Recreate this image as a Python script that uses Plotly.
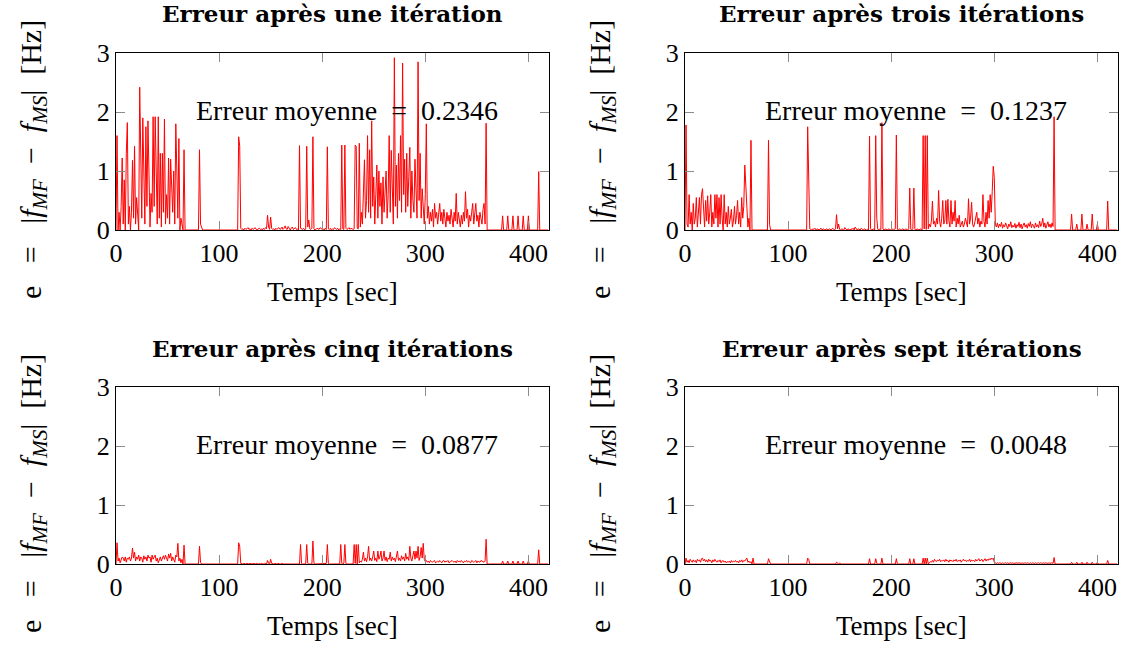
import plotly.graph_objects as go

# time base [sec]
time_s = list(range(420))

# |f_MF - f_MS| after 1 iteration
err_1 = (
    [0.0, 1.6, 0.0, 0.3, 0.0, 0.4, 1.22, 0.1, 0.85, 0.0, 1.3, 1.82, 0.1, 0.4, 0.0, 0.3, 1.18, 0.2, 1.42, 0.1]
    + [0.55, 0.3, 0.0, 2.42, 1.3, 0.2, 1.9, 0.6, 0.1, 1.75, 0.4, 1.85, 0.6, 0.05, 0.62, 0.3, 1.92, 0.4, 1.92, 0.5]
    + [0.1, 1.92, 0.2, 1.3, 0.05, 1.3, 0.3, 1.88, 0.1, 0.6, 0.2, 1.22, 0.1, 1.2, 0.8, 0.3, 1.0, 0.1, 1.8, 0.8]
    + [0.2, 1.55, 0.0, 0.2, 0.05, 0.0, 1.36, 0.0] + [0.0] * 12
    + [0.0, 1.36, 0.1, 0.05] + [0.0] * 16
    + [0.0] * 19 + [1.58]
    + [1.42, 0.03, 0.01, 0.02, 0.0, 0.03, 0.01, 0.02, 0.04, 0.01, 0.02, 0.0, 0.03, 0.01, 0.02, 0.04, 0.01, 0.0, 0.02, 0.03]
    + [0.01, 0.02, 0.0, 0.03, 0.01, 0.04, 0.02, 0.25, 0.05, 0.01, 0.22, 0.03, 0.01, 0.02, 0.0, 0.03, 0.01, 0.02, 0.04, 0.01]
    + [0.02, 0.05, 0.01, 0.03, 0.07, 0.02, 0.01, 0.06, 0.02, 0.0, 0.03, 0.05, 0.01, 0.02, 0.04, 0.01, 0.02, 0.0, 1.43, 0.03]
    + [0.02, 0.01, 0.03, 0.0, 0.02, 1.42, 0.05, 0.17, 0.02, 0.01, 0.03, 1.58, 0.02, 0.0, 0.01, 0.03, 0.02, 0.01, 0.04, 0.02]
    + [0.01, 0.02, 0.0, 0.03, 0.01, 1.41, 0.02, 0.01, 0.03, 0.0, 0.02, 0.01, 0.04, 0.02, 0.01, 0.03, 0.0, 0.02, 0.01, 1.44]
    + [0.02, 0.01, 1.44, 0.03, 0.01, 0.02, 0.04, 0.01, 0.03, 0.02, 0.01, 0.02, 1.44, 1.42, 0.03, 0.02, 1.47, 0.05, 0.3, 0.1]
    + [0.6, 1.19, 0.2, 0.5, 1.6, 0.3, 1.36, 0.2, 1.85, 0.4, 0.9, 0.1, 0.6, 1.1, 0.2, 1.0, 0.4, 0.8, 0.1, 0.9]
    + [0.3, 0.7, 1.0, 0.2, 0.6, 1.6, 0.3, 1.35, 0.5, 0.1, 2.92, 0.4, 1.1, 0.2, 1.3, 0.5, 1.6, 0.3, 2.83, 0.6]
    + [1.2, 0.3, 1.3, 0.4, 0.9, 1.4, 0.2, 1.0, 0.5, 0.3, 1.2, 0.6, 0.2, 2.85, 0.5, 1.3, 0.2, 0.7, 0.4, 0.1]
    + [0.6, 1.8, 0.2, 0.4, 0.1, 0.3, 0.15, 0.35, 0.05, 0.45, 0.2, 0.3, 0.1, 0.25, 0.45, 0.15, 0.3, 0.1, 0.35, 0.2]
    + [0.05, 0.3, 0.15, 0.25, 0.1, 0.35, 0.2, 0.05, 0.3, 0.15, 0.62, 0.1, 0.3, 0.2, 0.05, 0.25, 0.1, 0.3, 0.15, 0.65]
    + [0.2, 0.35, 0.05, 0.25, 0.15, 0.3, 0.45, 0.1, 0.3, 0.45, 0.15, 0.25, 0.05, 0.3, 0.2, 0.1, 0.35, 0.45, 0.1, 1.81]
    + [0.0] * 15 + [0.24, 0.0, 0.0, 0.0, 0.0]
    + [0.24, 0.0, 0.0, 0.0, 0.0, 0.24, 0.0, 0.0, 0.0, 0.0, 0.24, 0.0, 0.0, 0.0, 0.0, 0.24, 0.0, 0.0, 0.0, 0.0]
    + [0.24] + [0.0] * 9 + [0.99] + [0.0] * 9
)

# after 3 iterations
err_3 = (
    [0.0, 1.78, 0.1, 0.05, 0.6, 0.1, 0.3, 0.0, 0.45, 0.1, 0.2, 0.55, 0.05, 0.3, 0.55, 0.1, 0.6, 0.7, 0.2, 0.05]
    + [0.5, 0.15, 0.58, 0.1, 0.3, 0.6, 0.05, 0.3, 0.1, 0.6, 0.2, 0.6, 0.05, 0.55, 0.1, 0.6, 0.2, 0.0, 0.6, 0.1]
    + [0.3, 0.05, 0.4, 0.1, 0.2, 0.35, 0.05, 0.15, 0.4, 0.1, 0.25, 0.5, 0.1, 0.3, 0.05, 0.55, 0.2, 0.4, 1.1, 0.72]
    + [0.3, 0.05, 0.2, 0.0, 1.52, 0.0] + [0.0] * 14
    + [0.0, 1.52, 0.1, 0.0] + [0.0] * 16
    + [0.0] * 19 + [1.75]
    + [0.69, 0.02, 0.01, 0.0, 0.02, 0.01, 0.03, 0.0, 0.01, 0.02, 0.0, 0.01, 0.03, 0.0, 0.02, 0.01, 0.0, 0.02, 0.01, 0.0]
    + [0.02, 0.01, 0.0, 0.03, 0.01, 0.0, 0.02, 0.26, 0.02, 0.1, 0.01, 0.0, 0.02, 0.01, 0.0, 0.04, 0.01, 0.0, 0.02, 0.01]
    + [0.0, 0.02, 0.01, 0.03, 0.0, 0.05, 0.01, 0.0, 0.02, 0.01, 0.0, 0.03, 0.01, 0.0, 0.02, 0.01, 0.0, 0.01, 0.0, 1.59]
    + [0.02, 0.0, 0.01, 0.02, 0.0, 1.6, 0.2, 0.01, 0.0, 0.02, 0.01, 1.82, 0.02, 0.0, 0.01, 0.02, 0.0, 0.01, 0.02, 0.0]
    + [0.01, 0.02, 0.0, 0.01, 0.02, 1.61, 0.01, 0.0, 0.02, 0.01, 0.0, 0.02, 0.01, 0.0, 0.02, 0.01, 0.0, 0.02, 0.71, 0.01]
    + [0.0, 0.02, 0.71, 0.01, 0.0, 0.02, 0.01, 0.0, 0.02, 0.01, 0.0, 1.6, 0.02, 1.6, 0.01, 1.6, 0.02, 0.1, 0.05, 0.15]
    + [0.49, 0.1, 0.15, 0.05, 0.2, 0.1, 0.67, 0.15, 0.05, 0.2, 0.5, 0.1, 0.15, 0.5, 0.1, 0.52, 0.15, 0.05, 0.5, 0.1]
    + [0.3, 0.15, 0.5, 0.05, 0.2, 0.1, 0.25, 0.05, 0.12, 0.15, 0.05, 0.1, 0.2, 0.1, 0.05, 0.53, 0.1, 0.2, 0.47, 0.1]
    + [0.05, 0.12, 0.2, 0.3, 0.1, 0.2, 0.05, 0.15, 0.1, 0.6, 0.15, 0.05, 0.3, 0.1, 0.5, 0.2, 0.6, 0.3, 0.65, 1.08]
    + [0.89, 0.1, 0.05, 0.12, 0.04, 0.1, 0.06, 0.13, 0.03, 0.09, 0.05, 0.12, 0.07, 0.02, 0.1, 0.06, 0.14, 0.04, 0.08, 0.05]
    + [0.11, 0.03, 0.09, 0.06, 0.13, 0.04, 0.1, 0.02, 0.08, 0.12, 0.05, 0.09, 0.03, 0.11, 0.06, 0.14, 0.04, 0.1, 0.07, 0.03]
    + [0.12, 0.05, 0.09, 0.04, 0.15, 0.06, 0.1, 0.2, 0.05, 0.12, 0.03, 0.09, 0.14, 0.05, 0.1, 0.04, 0.12, 0.06, 1.92, 0.0]
    + [0.0] * 15 + [0.27, 0.0, 0.0, 0.0, 0.0]
    + [0.1, 0.0, 0.0, 0.0, 0.0, 0.27, 0.0, 0.0, 0.0, 0.0, 0.1, 0.0, 0.0, 0.0, 0.0, 0.27, 0.0, 0.0, 0.0, 0.0]
    + [0.1] + [0.0] * 9 + [0.49] + [0.0] * 9
)

# after 5 iterations
err_5 = (
    [0.0, 0.36, 0.05, 0.1, 0.02, 0.08, 0.12, 0.1, 0.05, 0.12, 0.03, 0.1, 0.08, 0.12, 0.05, 0.1, 0.27, 0.1, 0.2, 0.05]
    + [0.12, 0.08, 0.15, 0.05, 0.12, 0.1, 0.03, 0.14, 0.08, 0.12, 0.05, 0.15, 0.1, 0.12, 0.03, 0.15, 0.08, 0.12, 0.15, 0.05]
    + [0.1, 0.02, 0.08, 0.12, 0.05, 0.1, 0.14, 0.08, 0.15, 0.1, 0.05, 0.17, 0.1, 0.18, 0.05, 0.12, 0.08, 0.03, 0.15, 0.12]
    + [0.35, 0.05, 0.1, 0.02, 0.08, 0.0, 0.32, 0.0] + [0.0] * 12
    + [0.0, 0.3, 0.03] + [0.0] * 17
    + [0.0] * 19 + [0.36]
    + [0.3, 0.01, 0.0, 0.0, 0.01, 0.0, 0.0, 0.01, 0.0, 0.0, 0.01, 0.0, 0.0, 0.01, 0.0, 0.0, 0.01, 0.0, 0.0, 0.01]
    + [0.0, 0.01, 0.0, 0.0, 0.01, 0.0, 0.0, 0.06, 0.01, 0.0, 0.08, 0.01, 0.0, 0.0, 0.01, 0.0, 0.0, 0.01, 0.0, 0.0]
    + [0.0, 0.01, 0.0, 0.0, 0.01, 0.0, 0.0, 0.01, 0.0, 0.0, 0.01, 0.0, 0.0, 0.0, 0.01, 0.0, 0.0, 0.0, 0.0, 0.33]
    + [0.01, 0.0, 0.0, 0.01, 0.0, 0.33, 0.01, 0.0, 0.0, 0.01, 0.0, 0.39, 0.01, 0.0, 0.0, 0.01, 0.0, 0.0, 0.01, 0.0]
    + [0.0, 0.01, 0.0, 0.0, 0.01, 0.33, 0.01, 0.0, 0.0, 0.01, 0.0, 0.0, 0.01, 0.0, 0.0, 0.01, 0.0, 0.0, 0.33, 0.01]
    + [0.0, 0.01, 0.33, 0.01, 0.0, 0.0, 0.01, 0.0, 0.0, 0.01, 0.0, 0.33, 0.01, 0.33, 0.0, 0.33, 0.02, 0.05, 0.03, 0.08]
    + [0.2, 0.05, 0.1, 0.04, 0.12, 0.3, 0.06, 0.1, 0.05, 0.12, 0.22, 0.06, 0.1, 0.04, 0.22, 0.08, 0.12, 0.22, 0.05, 0.1]
    + [0.22, 0.06, 0.12, 0.04, 0.1, 0.08, 0.2, 0.05, 0.12, 0.07, 0.1, 0.04, 0.12, 0.22, 0.06, 0.1, 0.05, 0.14, 0.08, 0.12]
    + [0.05, 0.18, 0.08, 0.12, 0.06, 0.3, 0.1, 0.05, 0.14, 0.22, 0.08, 0.22, 0.1, 0.3, 0.06, 0.12, 0.28, 0.1, 0.35, 0.08]
    + [0.04, 0.06, 0.03, 0.05, 0.02, 0.06, 0.04, 0.03, 0.05, 0.06, 0.02, 0.04, 0.05, 0.03, 0.06, 0.04, 0.02, 0.05, 0.06, 0.03]
    + [0.05, 0.04, 0.06, 0.02, 0.03, 0.05, 0.06, 0.04, 0.03, 0.05, 0.02, 0.06, 0.04, 0.05, 0.03, 0.06, 0.04, 0.02, 0.05, 0.04]
    + [0.06, 0.03, 0.05, 0.04, 0.02, 0.06, 0.05, 0.03, 0.04, 0.06, 0.02, 0.05, 0.04, 0.03, 0.06, 0.05, 0.04, 0.03, 0.05, 0.42]
    + [0.0] * 15 + [0.05, 0.0, 0.0, 0.0, 0.0]
    + [0.05, 0.0, 0.0, 0.0, 0.0, 0.05, 0.0, 0.0, 0.0, 0.0, 0.05, 0.0, 0.0, 0.0, 0.0, 0.05, 0.0, 0.0, 0.0, 0.0]
    + [0.05] + [0.0] * 9 + [0.24] + [0.0] * 9
)

# after 7 iterations
err_7 = (
    [0.0, 0.1, 0.03, 0.06, 0.02, 0.08, 0.05, 0.03, 0.07, 0.04, 0.06, 0.02, 0.08, 0.05, 0.07, 0.03, 0.09, 0.1, 0.05, 0.08]
    + [0.04, 0.07, 0.03, 0.08, 0.05, 0.06, 0.02, 0.07, 0.04, 0.08, 0.05, 0.03, 0.06, 0.04, 0.07, 0.02, 0.05, 0.06, 0.03, 0.05]
    + [0.02, 0.04, 0.03, 0.05, 0.02, 0.06, 0.03, 0.05, 0.04, 0.06, 0.03, 0.05, 0.02, 0.06, 0.04, 0.07, 0.03, 0.06, 0.05, 0.08]
    + [0.1, 0.03, 0.05, 0.02, 0.04, 0.0, 0.1, 0.0] + [0.0] * 12
    + [0.0, 0.09, 0.02] + [0.0] * 17
    + [0.0] * 19 + [0.1]
    + [0.08] + [0.0] * 19
    + [0.0] * 7 + [0.03, 0.01, 0.0, 0.02] + [0.0] * 9
    + [0.0] * 19 + [0.09]
    + [0.0, 0.0, 0.0, 0.0, 0.0, 0.09, 0.01, 0.0, 0.0, 0.0, 0.0, 0.1, 0.0, 0.0, 0.0, 0.0, 0.0, 0.0, 0.0, 0.0]
    + [0.0, 0.0, 0.0, 0.0, 0.0, 0.09, 0.0, 0.0, 0.0, 0.0, 0.0, 0.0, 0.0, 0.0, 0.0, 0.0, 0.0, 0.0, 0.09, 0.0]
    + [0.0, 0.0, 0.09, 0.0, 0.0, 0.0, 0.0, 0.0, 0.0, 0.0, 0.0, 0.1, 0.0, 0.1, 0.0, 0.1, 0.0, 0.02, 0.04, 0.03]
    + [0.06, 0.03, 0.08, 0.05, 0.04, 0.07, 0.05, 0.08, 0.04, 0.06, 0.05, 0.07, 0.04, 0.08, 0.05, 0.06, 0.03, 0.07, 0.05, 0.06]
    + [0.04, 0.07, 0.05, 0.08, 0.04, 0.06, 0.05, 0.07, 0.03, 0.06, 0.08, 0.05, 0.07, 0.04, 0.06, 0.05, 0.08, 0.04, 0.07, 0.05]
    + [0.06, 0.04, 0.08, 0.05, 0.07, 0.09, 0.05, 0.06, 0.08, 0.04, 0.07, 0.09, 0.05, 0.08, 0.06, 0.09, 0.07, 0.1, 0.08, 0.1]
    + [0.03, 0.02, 0.01, 0.02, 0.01, 0.02, 0.015, 0.01, 0.02, 0.01, 0.015, 0.02, 0.01, 0.02, 0.01, 0.015, 0.02, 0.01, 0.02, 0.01]
    + [0.015, 0.01, 0.02, 0.01, 0.02, 0.015, 0.01, 0.02, 0.01, 0.015, 0.02, 0.01, 0.02, 0.015, 0.01, 0.02, 0.01, 0.02, 0.015, 0.01]
    + [0.02, 0.01, 0.015, 0.02, 0.01, 0.02, 0.015, 0.01, 0.02, 0.01, 0.02, 0.015, 0.01, 0.02, 0.01, 0.015, 0.02, 0.01, 0.11, 0.0]
    + [0.0] * 15 + [0.03, 0.0, 0.0, 0.0, 0.0]
    + [0.03, 0.0, 0.0, 0.0, 0.0, 0.03, 0.0, 0.0, 0.0, 0.0, 0.03, 0.0, 0.0, 0.0, 0.0, 0.03, 0.0, 0.0, 0.0, 0.0]
    + [0.03] + [0.0] * 9 + [0.06] + [0.0] * 9
)

titles = [
    "Erreur après une itération",
    "Erreur après trois itérations",
    "Erreur après cinq itérations",
    "Erreur après sept itérations",
]
mean_errors = ["0.2346", "0.1237", "0.0877", "0.0048"]
x_ticks = [0, 100, 200, 300, 400]
y_ticks = [0, 1, 2, 3]

series = [err_1, err_3, err_5, err_7]

W, H = 1129, 645
# plot boxes in screen pixels (left, right, top, bottom)
boxes = [(116, 549, 53, 230), (685, 1118, 53, 230),
         (116, 549, 387, 564), (685, 1118, 387, 564)]


def px_x(p):
    return p / W


def px_y(p):
    return 1 - p / H


FONT = "Liberation Serif"
TITLE_FONT = "DejaVu Serif"
NB = "\u00a0"

fig = go.Figure()

for i, (vals, box) in enumerate(zip(series, boxes), start=1):
    sfx = "" if i == 1 else str(i)
    l, r, t, b = box
    fig.add_trace(go.Scatter(
        x=time_s, y=vals, mode="lines",
        line=dict(color="red", width=1),
        xaxis="x" + sfx, yaxis="y" + sfx, showlegend=False,
    ))
    axis_common = dict(
        showline=True, linecolor="black", linewidth=1, mirror="ticks",
        ticks="inside", ticklen=9, tickwidth=1, tickcolor="#8c8c8c",
        showgrid=False, zeroline=False, automargin=False,
        tickfont=dict(family=FONT, size=26, color="black"),
    )
    fig.update_layout({
        "xaxis" + sfx: dict(axis_common, domain=[px_x(l), px_x(r)], range=[0, 420],
                             tickvals=x_ticks, anchor="y" + sfx),
        "yaxis" + sfx: dict(axis_common, domain=[px_y(b), px_y(t)], range=[0, 3],
                             tickvals=y_ticks, anchor="x" + sfx),
    })
    cx = px_x((l + r) / 2)
    # panel title
    fig.add_annotation(text="<b>" + titles[i - 1] + "</b>", xref="paper", yref="paper",
                       x=cx, y=px_y(t - 39), xanchor="center", yanchor="middle",
                       showarrow=False,
                       font=dict(family=TITLE_FONT, size=23, color="black"))
    # x label
    fig.add_annotation(text="Temps [sec]", xref="paper", yref="paper",
                       x=cx, y=px_y(b + 62), xanchor="center", yanchor="middle",
                       showarrow=False,
                       font=dict(family=FONT, size=27, color="black"))
    # y label
    fig.add_annotation(
        text="e" + NB * 3 + "=" + NB * 3 + "|<i>f</i><sub><i>MF</i></sub>" + NB * 2 + "−" + NB * 2
             + "<i>f</i><sub><i>MS</i></sub>|" + NB * 2 + "[Hz]",
        xref="paper", yref="paper", x=px_x(l - 83), y=px_y(t + 107),
        xanchor="center", yanchor="middle", textangle=-90, showarrow=False,
        font=dict(family=FONT, size=30, color="black"))
    # mean error text
    fig.add_annotation(text="Erreur moyenne" + NB * 2 + "=" + NB * 2 + mean_errors[i - 1],
                       xref="x" + sfx, yref="y" + sfx, x=224, y=2.03,
                       xanchor="center", yanchor="middle",
                       showarrow=False, font=dict(family=FONT, size=28, color="black"))

fig.update_layout(
    width=W, height=H,
    margin=dict(l=0, r=0, t=0, b=0, pad=0, autoexpand=False),
    paper_bgcolor="white", plot_bgcolor="white",
)

# drop the default page margin so the figure sits at the window's corner
fig.write_html("out.html", config={"displayModeBar": False},
               post_script="document.body.style.margin = '0px';")
